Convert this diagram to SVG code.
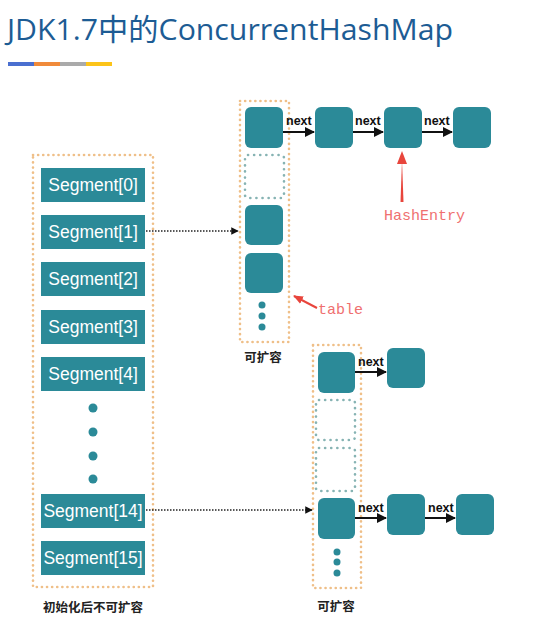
<svg xmlns="http://www.w3.org/2000/svg" width="550" height="620" viewBox="0 0 550 620">
<style>
.title{font-family:"Open Sans","Noto Sans","Noto Sans CJK SC",sans-serif;font-size:30px;fill:#1d5c94}
.seg rect{fill:#2b8a98}
.seg text{font-family:"Liberation Sans",Arial,sans-serif;font-size:17.5px;fill:#ffffff;text-anchor:middle}
.cont{fill:none;stroke:#efbf88;stroke-width:2.6;stroke-dasharray:0.1 5;stroke-linecap:round}
.slot{fill:none;stroke:#86b3b3;stroke-width:2.6;stroke-dasharray:0.1 6;stroke-linecap:round}
.node{fill:#2b8a98}
.dot{fill:#2b8a98}
.next{font-family:"Liberation Sans",Arial,sans-serif;font-size:12.5px;font-weight:bold;fill:#111}
.lbl{font-family:"Noto Sans CJK SC","Noto Sans",sans-serif;font-size:12.5px;font-weight:bold;fill:#222;text-anchor:middle}
.red{font-family:"Liberation Mono","Courier New","DejaVu Sans Mono",monospace;font-size:15px;fill:#ef7070}
.arr{stroke:#111;stroke-width:2;fill:none}
.dash{stroke:#222;stroke-width:1.5;stroke-dasharray:1.5 1.5;fill:none}
</style>
<defs>
<marker id="ah" viewBox="0 0 10 10" refX="9" refY="5" markerWidth="5" markerHeight="5" orient="auto"><path d="M0,0 L10,5 L0,10 z" fill="#111"/></marker>
<marker id="rah" viewBox="0 0 10 10" refX="9" refY="5" markerWidth="5" markerHeight="5" orient="auto"><path d="M0,1 L10,5 L0,9 z" fill="#e8453c"/></marker>
</defs>
<rect width="550" height="620" fill="#ffffff"/>
<g id="title">
<text class="title" x="7" y="40" textLength="446" lengthAdjust="spacingAndGlyphs">JDK1.7中的ConcurrentHashMap</text>
<rect x="8" y="62" width="26" height="4" fill="#4a6fd0"/>
<rect x="34" y="62" width="26" height="4" fill="#f08a3a"/>
<rect x="60" y="62" width="26" height="4" fill="#aaaaaa"/>
<rect x="86" y="62" width="26" height="4" fill="#fcc419"/>
</g>
<g id="segments">
<rect class="cont" x="33" y="155" width="120" height="432"/>
<g id="seg0" class="seg"><rect x="41" y="168" width="104" height="34"/><text x="93" y="191">Segment[0]</text></g>
<g id="seg1" class="seg"><rect x="41" y="215" width="104" height="34"/><text x="93" y="238">Segment[1]</text></g>
<g id="seg2" class="seg"><rect x="41" y="262" width="104" height="34"/><text x="93" y="285">Segment[2]</text></g>
<g id="seg3" class="seg"><rect x="41" y="310" width="104" height="34"/><text x="93" y="333">Segment[3]</text></g>
<g id="seg4" class="seg"><rect x="41" y="357" width="104" height="34"/><text x="93" y="380">Segment[4]</text></g>
<circle class="dot" cx="93" cy="408" r="4.5"/>
<circle class="dot" cx="93" cy="432" r="4.5"/>
<circle class="dot" cx="93" cy="456" r="4.5"/>
<circle class="dot" cx="93" cy="479" r="4.5"/>
<g id="seg14" class="seg"><rect x="41" y="494" width="104" height="34"/><text x="93" y="517">Segment[14]</text></g>
<g id="seg15" class="seg"><rect x="41" y="541" width="104" height="34"/><text x="93" y="564">Segment[15]</text></g>
<text class="lbl" x="93" y="612">初始化后不可扩容</text>
</g>
<g id="table1">
<rect class="cont" x="240" y="101" width="49" height="241"/>
<rect class="node" x="245" y="107" width="38" height="41" rx="6"/>
<rect class="slot" x="245" y="155" width="39" height="43" rx="3"/>
<rect class="node" x="245" y="205" width="38" height="40" rx="6"/>
<rect class="node" x="245" y="253" width="38" height="40" rx="6"/>
<circle class="dot" cx="262" cy="305" r="3.5"/>
<circle class="dot" cx="262" cy="316" r="3.5"/>
<circle class="dot" cx="262" cy="327" r="3.5"/>
<text class="lbl" x="263" y="362">可扩容</text>
</g>
<g id="entry1a"><rect class="node" x="315" y="107" width="38" height="41" rx="6"/></g>
<g id="entry1b"><rect class="node" x="384" y="107" width="38" height="41" rx="6"/></g>
<g id="entry1c"><rect class="node" x="453" y="107" width="38" height="41" rx="6"/></g>
<g id="table2">
<rect class="cont" x="313" y="345" width="48" height="243"/>
<rect class="node" x="318" y="352" width="37" height="41" rx="6"/>
<rect class="slot" x="316" y="400" width="39" height="40" rx="3"/>
<rect class="slot" x="316" y="448" width="39" height="43" rx="3"/>
<rect class="node" x="318" y="498" width="37" height="41" rx="6"/>
<circle class="dot" cx="337" cy="552" r="3.5"/>
<circle class="dot" cx="337" cy="562" r="3.5"/>
<circle class="dot" cx="337" cy="573" r="3.5"/>
<text class="lbl" x="336" y="611">可扩容</text>
</g>
<g id="entry2a"><rect class="node" x="387" y="348" width="38" height="40" rx="6"/></g>
<g id="entry2b"><rect class="node" x="387" y="494" width="38" height="41" rx="6"/></g>
<g id="entry2c"><rect class="node" x="456" y="494" width="38" height="41" rx="6"/></g>
<g id="connectors">
<line class="dash" x1="146" y1="231" x2="238" y2="231" marker-end="url(#ah)"/>
<line class="dash" x1="146" y1="510" x2="312" y2="510" marker-end="url(#ah)"/>
<line class="arr" x1="283" y1="132" x2="314" y2="132" marker-end="url(#ah)"/>
<line class="arr" x1="353" y1="132" x2="383" y2="132" marker-end="url(#ah)"/>
<line class="arr" x1="422" y1="132" x2="452" y2="132" marker-end="url(#ah)"/>
<line class="arr" x1="355" y1="372" x2="386" y2="372" marker-end="url(#ah)"/>
<line class="arr" x1="355" y1="518" x2="386" y2="518" marker-end="url(#ah)"/>
<line class="arr" x1="425" y1="518" x2="455" y2="518" marker-end="url(#ah)"/>
<text class="next" x="286" y="125">next</text>
<text class="next" x="355" y="125">next</text>
<text class="next" x="424" y="125">next</text>
<text class="next" x="358" y="366">next</text>
<text class="next" x="358" y="512">next</text>
<text class="next" x="428" y="512">next</text>
<path d="M400.5,202 L402,160 L403.5,202 z" fill="#e8453c"/>
<path d="M397,164 L402,151 L407,164 z" fill="#e8453c"/>
<text class="red" x="384" y="220">HashEntry</text>
<path d="M317,308 L294,296" stroke="#e8453c" stroke-width="2" fill="none" marker-end="url(#rah)"/>
<text class="red" x="318" y="314">table</text>
</g>
</svg>
